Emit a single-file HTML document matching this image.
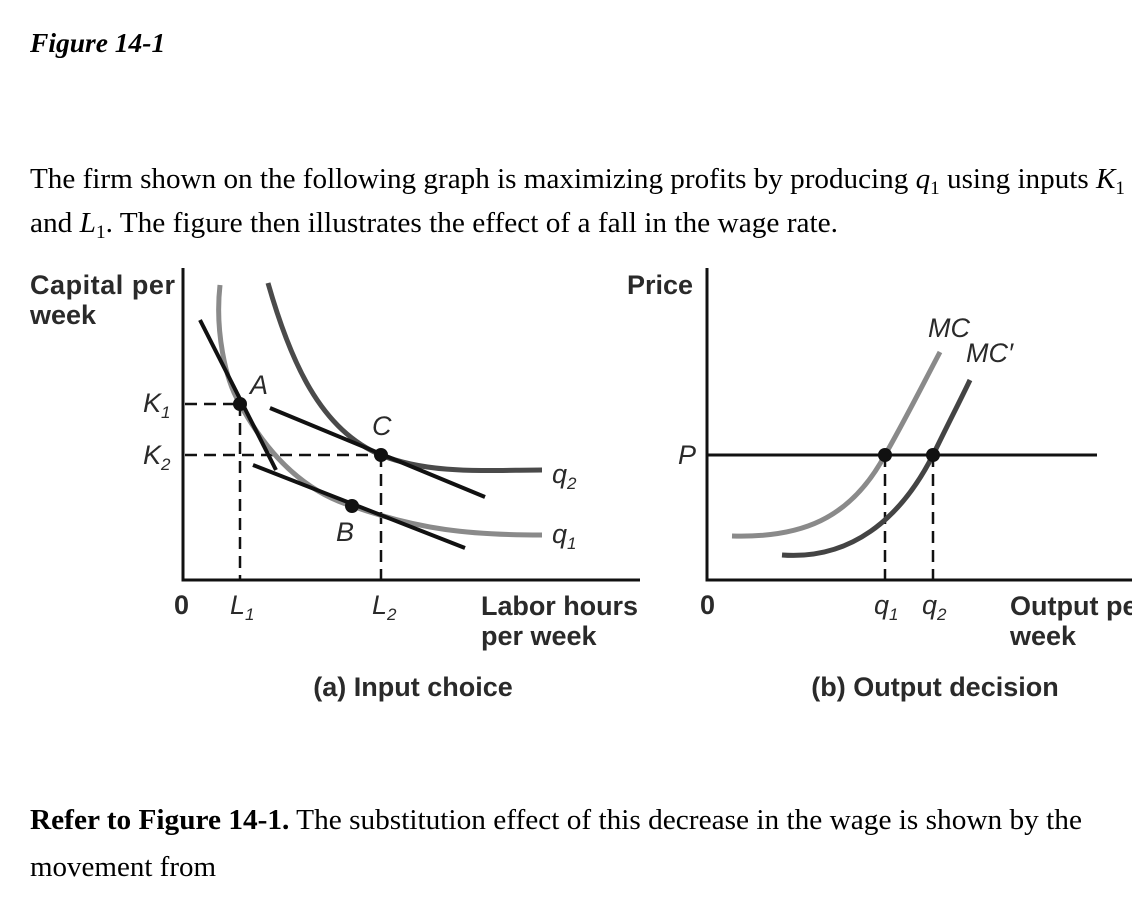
<!DOCTYPE html>
<html><head><meta charset="utf-8"><style>
html,body{margin:0;padding:0;background:#fff;width:1132px;height:910px;overflow:hidden}
svg{display:block}
.s{font-family:"Liberation Serif",serif;font-size:29px;fill:#000}
.l{font-family:"Liberation Sans",sans-serif;font-size:27px;font-weight:bold;fill:#2a2a2a}
.i{font-style:italic}
</style></head><body>
<svg width="1132" height="910" viewBox="0 0 1132 910" xmlns="http://www.w3.org/2000/svg">
<text x="30" y="52" class="s" style="font-weight:bold;font-style:italic;font-size:27.5px">Figure 14-1</text>
<text x="30" y="188" class="s" textLength="1095" lengthAdjust="spacingAndGlyphs">The firm shown on the following graph is maximizing profits by producing <tspan font-style="italic">q</tspan><tspan font-size="19" dy="6">1</tspan><tspan dy="-6"> using inputs </tspan><tspan font-style="italic">K</tspan><tspan font-size="19" dy="6">1</tspan></text>
<text x="30" y="232" class="s" textLength="808" lengthAdjust="spacingAndGlyphs">and <tspan font-style="italic">L</tspan><tspan font-size="19" dy="6">1</tspan><tspan dy="-6">. The figure then illustrates the effect of a fall in the wage rate.</tspan></text>

<!-- Left panel -->
<text x="30" y="294" class="l" textLength="145">Capital per</text>
<text x="30" y="324" class="l">week</text>
<g stroke="#111" stroke-width="3" fill="none">
<polyline points="183,268 183,580 640,580"/>
</g>
<g stroke="#111" stroke-width="2.5" stroke-dasharray="12,7" fill="none">
<line x1="185" y1="404" x2="240" y2="404"/>
<line x1="185" y1="455" x2="381" y2="455"/>
<line x1="240" y1="404" x2="240" y2="580"/>
<line x1="381" y1="455" x2="381" y2="580"/>
</g>
<path d="M220,285 C215,330 225,380 240,404 C265,450 300,490 352,506 C420,530 470,535 542,535" stroke="#8a8a8a" stroke-width="5" fill="none"/>
<path d="M268,283 C290,360 320,430 381,455 C430,475 490,470 542,470" stroke="#4a4a4a" stroke-width="5" fill="none"/>
<g stroke="#111" stroke-width="4" fill="none">
<line x1="200" y1="320" x2="276" y2="470"/>
<line x1="270" y1="408" x2="485" y2="497"/>
<line x1="253" y1="465" x2="465" y2="548"/>
</g>
<g fill="#111"><circle cx="240" cy="404" r="7"/><circle cx="381" cy="455" r="7"/><circle cx="352" cy="506" r="7"/></g>
<text x="250" y="394" class="l i" style="font-weight:normal">A</text>
<text x="372" y="435" class="l i" style="font-weight:normal">C</text>
<text x="336" y="541" class="l i" style="font-weight:normal">B</text>
<text x="552" y="483" class="l i" style="font-weight:normal">q<tspan font-size="17" dy="6">2</tspan></text>
<text x="552" y="543" class="l i" style="font-weight:normal">q<tspan font-size="17" dy="6">1</tspan></text>
<text x="143" y="412" class="l i" style="font-weight:normal">K<tspan font-size="17" dy="6">1</tspan></text>
<text x="143" y="464" class="l i" style="font-weight:normal">K<tspan font-size="17" dy="6">2</tspan></text>
<text x="174" y="614" class="l">0</text>
<text x="230" y="614" class="l i" style="font-weight:normal">L<tspan font-size="17" dy="6">1</tspan></text>
<text x="372" y="614" class="l i" style="font-weight:normal">L<tspan font-size="17" dy="6">2</tspan></text>
<text x="481" y="615" class="l" textLength="157">Labor hours</text>
<text x="481" y="645" class="l">per week</text>
<text x="413" y="696" class="l" text-anchor="middle">(a) Input choice</text>

<!-- Right panel -->
<text x="693" y="294" class="l" text-anchor="end">Price</text>
<g stroke="#111" stroke-width="3" fill="none">
<polyline points="707,268 707,580 1132,580"/>
<line x1="707" y1="455" x2="1097" y2="455"/>
</g>
<g stroke="#111" stroke-width="2.5" stroke-dasharray="12,7" fill="none">
<line x1="885" y1="455" x2="885" y2="580"/>
<line x1="933" y1="455" x2="933" y2="580"/>
</g>
<path d="M732,536 C800,538 850,520 885,455 C905,420 920,390 940,352" stroke="#8a8a8a" stroke-width="5" fill="none"/>
<path d="M782,555 C850,560 900,520 933,455 C950,420 958,405 970,380" stroke="#444" stroke-width="5" fill="none"/>
<g fill="#111"><circle cx="885" cy="455" r="7"/><circle cx="933" cy="455" r="7"/></g>
<text x="928" y="337" class="l i" style="font-weight:normal">MC</text>
<text x="966" y="362" class="l i" style="font-weight:normal">MC′</text>
<text x="678" y="464" class="l i" style="font-weight:normal">P</text>
<text x="700" y="614" class="l">0</text>
<text x="874" y="614" class="l i" style="font-weight:normal">q<tspan font-size="17" dy="6">1</tspan></text>
<text x="922" y="614" class="l i" style="font-weight:normal">q<tspan font-size="17" dy="6">2</tspan></text>
<text x="1010" y="615" class="l">Output per</text>
<text x="1010" y="645" class="l">week</text>
<text x="935" y="696" class="l" text-anchor="middle">(b) Output decision</text>

<text x="30" y="829" class="s" textLength="1052" lengthAdjust="spacingAndGlyphs"><tspan font-weight="bold">Refer to Figure 14-1.</tspan> The substitution effect of this decrease in the wage is shown by the</text>
<text x="30" y="876" class="s">movement from</text>
</svg>
</body></html>
